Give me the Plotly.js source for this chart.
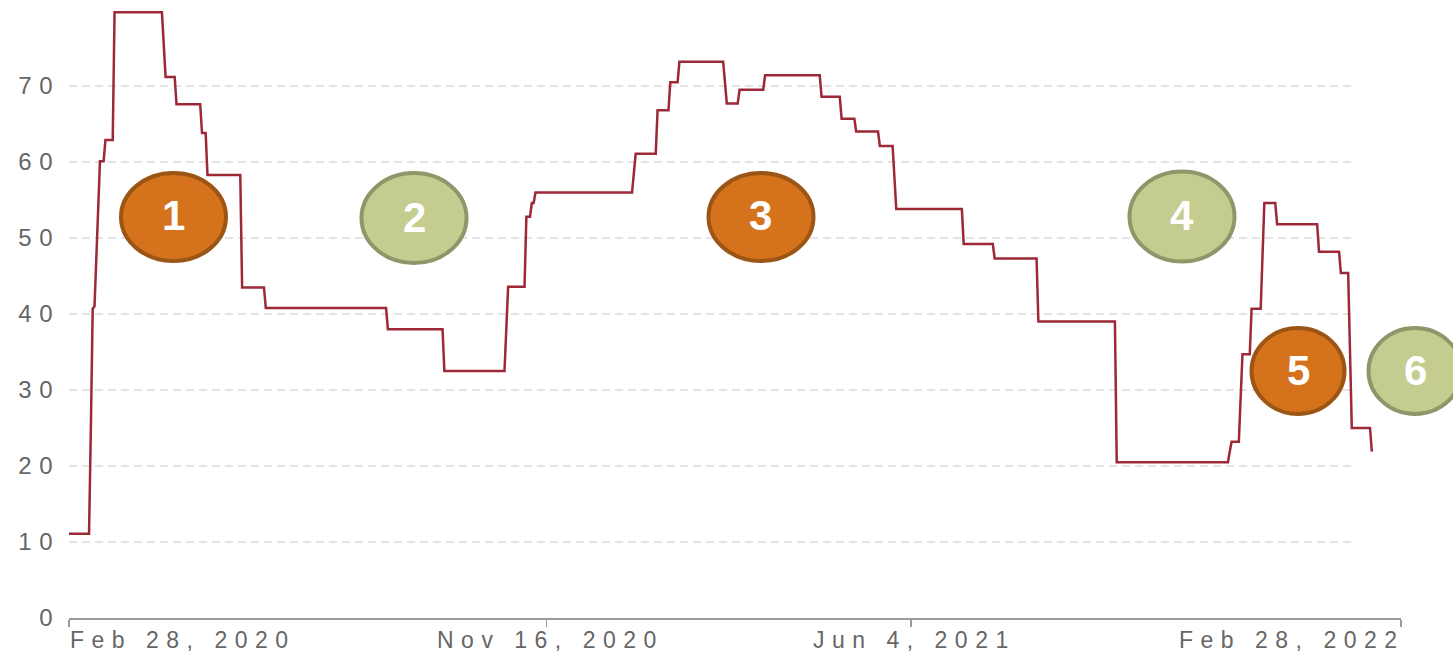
<!DOCTYPE html>
<html><head><meta charset="utf-8">
<script src="https://cdn.plot.ly/plotly-3.0.1.min.js"></script>
<style>html,body{margin:0;padding:0;background:#fff;overflow:hidden;} #chart{width:1453px;height:654px;}</style>
</head><body><div id="chart"></div>
<script>
// ---- data ----
const dates = [
 '2020-02-28','2020-03-10','2020-03-11','2020-03-12','2020-03-13','2020-03-16','2020-03-18','2020-03-19',
 '2020-03-23','2020-03-24','2020-04-19','2020-04-21','2020-04-26','2020-04-27','2020-05-10','2020-05-11',
 '2020-05-13','2020-05-14','2020-06-01','2020-06-02','2020-06-14','2020-06-15','2020-08-20','2020-08-21',
 '2020-09-20','2020-09-21','2020-10-24','2020-10-26','2020-11-04','2020-11-05','2020-11-07','2020-11-08',
 '2020-11-09','2020-11-10','2021-01-02','2021-01-04','2021-01-15','2021-01-16','2021-01-22','2021-01-23',
 '2021-01-27','2021-01-28','2021-02-21','2021-02-23','2021-03-01','2021-03-02','2021-03-15','2021-03-16',
 '2021-04-15','2021-04-16','2021-04-26','2021-04-27','2021-05-04','2021-05-05','2021-05-17','2021-05-18',
 '2021-05-25','2021-05-27','2021-07-02','2021-07-03','2021-07-19','2021-07-20','2021-08-12','2021-08-13',
 '2021-09-24','2021-09-25','2021-11-25','2021-11-27','2021-12-01','2021-12-03','2021-12-07','2021-12-08',
 '2021-12-13','2021-12-15','2021-12-21','2021-12-22','2022-01-13','2022-01-14','2022-01-25','2022-01-26',
 '2022-01-30','2022-02-01','2022-02-11','2022-02-12'
];
const values = [
 11.1,11.1,25.0,40.7,41.0,60.1,60.1,62.9,
 62.9,79.7,79.7,71.2,71.2,67.6,67.6,63.8,
 63.8,58.3,58.3,43.5,43.5,40.8,40.8,38.0,
 38.0,32.5,32.5,43.6,43.6,52.8,52.8,54.6,
 54.6,56.0,56.0,61.1,61.1,66.8,66.8,70.5,
 70.5,73.2,73.2,67.7,67.7,69.5,69.5,71.4,
 71.4,68.6,68.6,65.7,65.7,64.0,64.0,62.1,
 62.1,53.8,53.8,49.2,49.2,47.3,47.3,39.0,
 39.0,20.5,20.5,23.2,23.2,34.7,34.7,40.7,
 40.7,54.6,54.6,51.8,51.8,48.2,48.2,45.4,
 45.4,25.0,25.0,21.9
];
const yTickVals = [0,10,20,30,40,50,60,70];
const xTickDates = ['2020-02-28','2020-11-16','2021-06-04','2022-02-28'];
const xTickLabels = ['Feb 28, 2020','Nov 16, 2020','Jun 4, 2021','Feb 28, 2022'];
const badgeLabels = ['1','2','3','4','5','6'];

// ---- layout / styling ----
const W=1453, H=654, L=69, R=52, T=10, B=36;
const PW=W-L-R, PH=H-T-B;
const px2x = p => (p-L)/PW;
const py2y = p => (H-B-p)/PH;
const FONT = 'Liberation Sans, Arial, Helvetica, sans-serif';
const LS = 7.5;
const spaced = t => `<span style="letter-spacing:${LS}px">${t}</span>`;
const gridEnd = '2022-02-03 12:00';

const badgeStyle = {
  orange:{fill:'#D4731C', line:'#9B5515'},
  green:{fill:'#C5CC90', line:'#8F976A'}
};
const badgeKinds = ['orange','green','orange','green','orange','green'];
const badgeBoxes = [
  {cx:173.5,cy:217,w:109,h:92},
  {cx:414,cy:218,w:109,h:94},
  {cx:761,cy:217,w:109,h:92},
  {cx:1182,cy:216.5,w:109,h:94},
  {cx:1298,cy:371,w:97,h:90},
  {cx:1415,cy:371,w:97,h:90}
];
const BW = 4;

const shapes = [];
yTickVals.filter(v=>v>0).forEach(v=>{
  shapes.push({type:'line', xref:'x', yref:'y', x0:xTickDates[0], x1:gridEnd, y0:v, y1:v,
    line:{color:'#dcdcdc', width:1.5, dash:'8px,5px'}, layer:'below'});
});
badgeBoxes.forEach((b,i)=>{
  const st = badgeStyle[badgeKinds[i]];
  const hw=(b.w-BW)/2, hh=(b.h-BW)/2;
  shapes.push({type:'circle', xref:'paper', yref:'paper',
    x0:px2x(b.cx-hw), x1:px2x(b.cx+hw), y0:py2y(b.cy+hh), y1:py2y(b.cy-hh),
    fillcolor:st.fill, line:{color:st.line, width:BW}, layer:'above'});
});

const annotations = [];
xTickLabels.forEach((t,i)=>{
  const last = i===xTickLabels.length-1;
  annotations.push({xref:'x', yref:'paper', x:xTickDates[i], y:0,
    xanchor: i===0?'left':(last?'right':'center'), yanchor:'top',
    xshift: i===0?0:(last?5:LS/2), yshift:-8, showarrow:false, borderpad:0,
    text: spaced(t), font:{family:FONT, size:23, color:'#666666'}});
});
badgeBoxes.forEach((b,i)=>{
  annotations.push({xref:'paper', yref:'paper', x:px2x(b.cx), y:py2y(b.cy-1),
    xanchor:'center', yanchor:'middle', showarrow:false, text:badgeLabels[i],
    font:{family:FONT, size:42, color:'#ffffff', weight:'bold'}});
});

const trace = {x:dates, y:values, type:'scatter', mode:'lines',
  line:{color:'#9C2838', width:2.5}, hoverinfo:'skip', showlegend:false};

const layout = {
  width:W, height:H, margin:{l:L, r:R, t:T, b:B, pad:0},
  paper_bgcolor:'#ffffff', plot_bgcolor:'#ffffff', showlegend:false,
  xaxis:{type:'date', range:[xTickDates[0], xTickDates[3]], tickvals:xTickDates,
    showticklabels:false, ticks:'outside', ticklen:7, tickwidth:1.5, tickcolor:'#9a9a9a',
    showline:true, linecolor:'#9a9a9a', linewidth:1.5, showgrid:false, zeroline:false,
    automargin:false, fixedrange:true},
  yaxis:{range:[0,80], tickvals:yTickVals, ticktext:yTickVals.map(v=>spaced(v)),
    ticks:'', showline:false, showgrid:false, zeroline:false, automargin:false,
    ticklabelstandoff:8,
    tickfont:{family:FONT, size:24, color:'#666666'}, fixedrange:true},
  shapes, annotations
};
Plotly.newPlot('chart', [trace], layout, {staticPlot:true, displayModeBar:false});
</script></body></html>
